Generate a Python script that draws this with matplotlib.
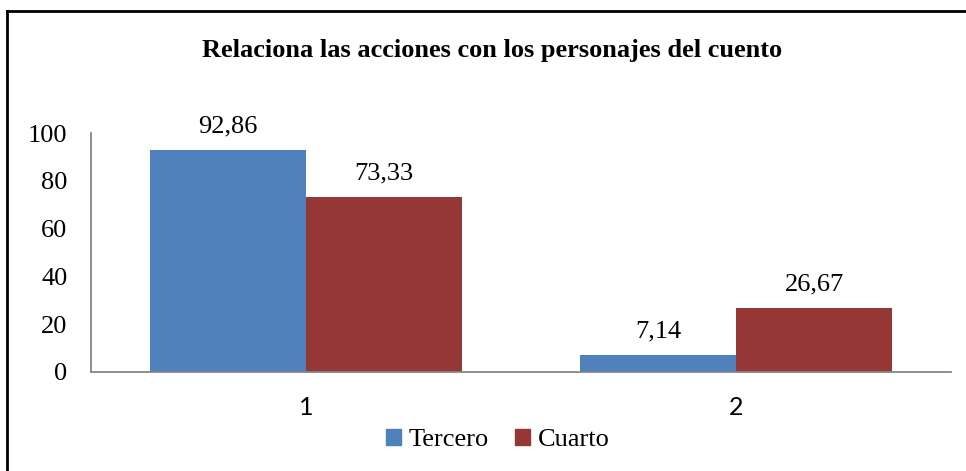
import matplotlib
matplotlib.use("Agg")
import matplotlib.pyplot as plt
from matplotlib.lines import Line2D
from matplotlib.patches import Patch

categories = ["1", "2"]
series_names = ["Tercero", "Cuarto"]
tercero = [92.86, 7.14]
cuarto = [73.33, 26.67]
labels_tercero = ["92,86", "7,14"]
labels_cuarto = ["73,33", "26,67"]
yticks = [0, 20, 40, 60, 80, 100]

colors = ["#4F81BD", "#953735"]
W, H = 966, 471
fig = plt.figure(figsize=(W / 100, H / 100), dpi=100)
ax = fig.add_axes([91 / W, 1 - 372 / H, (951 - 91) / W, (372 - 133) / H])

serif = "Liberation Serif"
fs = 19
x = [1, 2]
bw = 0.363
b1 = ax.bar([v - bw / 2 for v in x], tercero, width=bw, color=colors[0])
b2 = ax.bar([v + bw / 2 for v in x], cuarto, width=bw, color=colors[1])
for bars, labs in ((b1, labels_tercero), (b2, labels_cuarto)):
    for r, lab in zip(bars, labs):
        ax.annotate(lab, (r.get_x() + r.get_width() / 2, r.get_height()),
                    xytext=(0, 9), textcoords="offset points", ha="center",
                    va="bottom", fontsize=fs, family=serif)

ax.set_xlim(0.5, 2.5)
ax.set_ylim(0, 100)
ax.set_yticks(yticks)
ax.set_yticklabels([str(t) for t in yticks], family=serif, fontsize=fs)
ax.set_xticks(x)
ax.set_xticklabels(categories, family="Lato", fontsize=18)
ax.tick_params(length=0)
ax.tick_params(axis="y", pad=17)
ax.tick_params(axis="x", pad=17)
for s in ("top", "right"):
    ax.spines[s].set_visible(False)
for s in ("left", "bottom"):
    ax.spines[s].set_color("#868686")
    ax.spines[s].set_linewidth(1.3)

fig.text(492 / W, 1 - 50 / H, "Relaciona las acciones con los personajes del cuento",
         ha="center", va="center", fontsize=fs, fontweight="bold", family=serif)

handles = [Patch(color=c) for c in colors]
leg = fig.legend(handles, series_names, loc="center", bbox_to_anchor=(498 / W, 1 - 440 / H),
                 ncol=2, frameon=False, prop={"family": serif, "size": fs},
                 handlelength=0.55, handleheight=0.55, handletextpad=0.3, columnspacing=1.0)

fig.add_artist(Line2D([7 / W, 7 / W], [0, 1 - 11 / H], color="black", lw=2, transform=fig.transFigure))
fig.add_artist(Line2D([7 / W, 1], [1 - 11 / H, 1 - 11 / H], color="black", lw=2, transform=fig.transFigure))

fig.savefig("out.png", dpi=100)
